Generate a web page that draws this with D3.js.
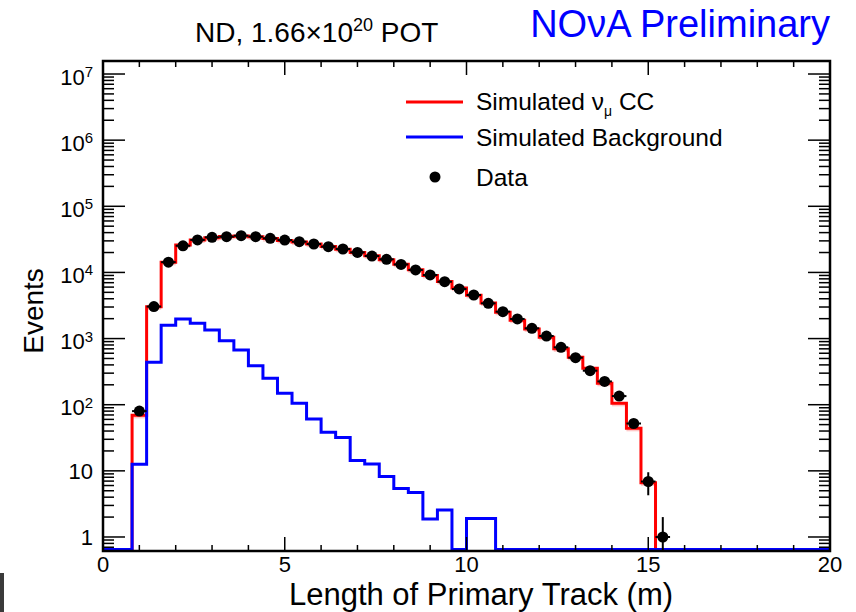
<!DOCTYPE html>
<html>
<head>
<meta charset="utf-8">
<script src="https://cdn.jsdelivr.net/npm/d3@7"></script>
<style>
  html, body { margin: 0; padding: 0; background: #fff; }
  svg { display: block; font-family: "Liberation Sans", Arial, Helvetica, sans-serif; }
</style>
</head>
<body>
<svg id="chart" width="856" height="612"></svg>
<script>
// ---------- data ----------
const binWidth = 0.4;
const binEdges = d3.range(51).map(i => +(i * binWidth).toFixed(2)); // 0 .. 20 m
// Simulated numu CC (red), per bin (50 bins)
const mcNumuCC = [
  0, 0, 69, 3034, 14230, 26000, 31000, 33500, 35000, 35500,
  34500, 32500, 30500, 28800, 26800, 24700, 22400, 20000, 17900, 15600,
  13300, 11000, 9000, 7300, 5800, 4500, 3450, 2500, 1900, 1400,
  1050, 700, 521, 355, 211, 105, 44, 6.6, 0, 0,
  0, 0, 0, 0, 0, 0, 0, 0, 0, 0
];
// Simulated background (blue)
const mcBackground = [
  0, 0, 12.6, 438, 1588, 1977, 1702, 1349, 929, 671,
  389, 251, 149, 105, 61, 38.3, 32, 14.3, 12.7, 8.2,
  5.4, 4.7, 1.87, 2.56, 0, 1.9, 1.9, 0, 0, 0,
  0, 0, 0, 0, 0, 0, 0, 0, 0, 0,
  0, 0, 0, 0, 0, 0, 0, 0, 0, 0
];
// Data (black points)
const dataCounts = [
  0, 0, 80, 3050, 14300, 25300, 31000, 34000, 34700, 35900,
  34700, 32800, 30800, 29150, 26900, 24500, 22600, 20100, 17700, 15800,
  13200, 10900, 9150, 7240, 5620, 4560, 3410, 2550, 1980, 1430,
  1093, 738, 514, 327, 225, 135, 52, 6.9, 1, 0,
  0, 0, 0, 0, 0, 0, 0, 0, 0, 0
];
const xTicks = [0, 5, 10, 15, 20];
const yDecades = [1, 10, 100, 1e3, 1e4, 1e5, 1e6, 1e7];
const legendItems = ["Simulated ν", "Simulated Background", "Data"];

// ---------- layout ----------
const svg = d3.select("#chart");
const L = 103, R = 830, T = 61, B = 551;
const x = d3.scaleLinear().domain([0, 20]).range([L, R]);
const y = d3.scaleLog().domain([0.614, 1.573e7]).range([B, T]);
const FONT = '"Liberation Sans", Arial, Helvetica, sans-serif';
const RED = "#ff0000", BLUE = "#0000ff";

// small dark bar artifact at bottom-left
svg.append("rect").attr("x", 0).attr("y", 573).attr("width", 4).attr("height", 39).attr("fill", "#3a3a3a");

svg.append("defs").append("clipPath").attr("id", "plotclip")
  .append("rect").attr("x", L).attr("y", T).attr("width", R - L).attr("height", B - T);

const plot = svg.append("g").attr("clip-path", "url(#plotclip)");

function yv(v) { return v > 0 ? y(v) : B - 1.5; }

function histPath(vals) {
  const pts = vals.map((v, i) => [binEdges[i], v]);
  pts.push([binEdges[vals.length], vals[vals.length - 1]]);
  return d3.line().x(d => x(d[0])).y(d => yv(d[1])).curve(d3.curveStepAfter)(pts);
}

// MC error band (light pink)
plot.selectAll("rect.band").data(mcNumuCC.map((v, i) => ({v, i})).filter(d => d.v > 0))
  .enter().append("rect")
  .attr("x", d => x(binEdges[d.i]))
  .attr("width", d => x(binEdges[d.i + 1]) - x(binEdges[d.i]))
  .attr("y", d => y(d.v * 1.03))
  .attr("height", d => y(d.v * 0.9) - y(d.v * 1.03))
  .attr("fill", "#ffc8c8");

plot.append("path").attr("d", histPath(mcNumuCC)).attr("fill", "none")
  .attr("stroke", RED).attr("stroke-width", 3);
plot.append("path").attr("d", histPath(mcBackground)).attr("fill", "none")
  .attr("stroke", BLUE).attr("stroke-width", 3);

// data points with error bars
const pts = dataCounts.map((v, i) => ({v, i, c: (binEdges[i] + binEdges[i + 1]) / 2})).filter(d => d.v > 0);
const pg = plot.append("g");
pts.forEach(d => {
  const e = Math.sqrt(d.v);
  const lo = d.v - e > 0 ? y(d.v - e) : B;
  pg.append("line").attr("x1", x(d.c)).attr("x2", x(d.c)).attr("y1", lo).attr("y2", y(d.v + e))
    .attr("stroke", "#000").attr("stroke-width", 2);
  pg.append("line").attr("x1", x(binEdges[d.i])).attr("x2", x(binEdges[d.i + 1]))
    .attr("y1", y(d.v)).attr("y2", y(d.v)).attr("stroke", "#000").attr("stroke-width", 2);
  pg.append("circle").attr("cx", x(d.c)).attr("cy", y(d.v)).attr("r", 5.5).attr("fill", "#000");
});

// ---------- axes (ROOT style, ticks inside) ----------
const ax = svg.append("g").attr("stroke", "#000");
const xMinor = d3.range(0, 21, 1);
xMinor.forEach(v => {
  const major = xTicks.includes(v);
  const len = major ? 14 : 6;
  ax.append("line").attr("x1", x(v)).attr("x2", x(v)).attr("y1", B).attr("y2", B - len).attr("stroke-width", 1.5);
  ax.append("line").attr("x1", x(v)).attr("x2", x(v)).attr("y1", T).attr("y2", T + len).attr("stroke-width", 1.5);
});
// y log ticks
const yMinorVals = [];
[0.1, 1, 10, 100, 1e3, 1e4, 1e5, 1e6, 1e7].forEach(dcd => {
  for (let k = 2; k <= 9; k++) yMinorVals.push(dcd * k);
});
yMinorVals.filter(v => v >= 0.614 && v <= 1.573e7).forEach(v => {
  ax.append("line").attr("x1", L).attr("x2", L + 11).attr("y1", y(v)).attr("y2", y(v)).attr("stroke-width", 1.5);
  ax.append("line").attr("x1", R).attr("x2", R - 11).attr("y1", y(v)).attr("y2", y(v)).attr("stroke-width", 1.5);
});
yDecades.forEach(v => {
  ax.append("line").attr("x1", L).attr("x2", L + 22).attr("y1", y(v)).attr("y2", y(v)).attr("stroke-width", 1.5);
  ax.append("line").attr("x1", R).attr("x2", R - 22).attr("y1", y(v)).attr("y2", y(v)).attr("stroke-width", 1.5);
});
// frame
svg.append("rect").attr("x", L).attr("y", T).attr("width", R - L).attr("height", B - T)
  .attr("fill", "none").attr("stroke", "#000").attr("stroke-width", 2.5);

// tick labels
const tl = svg.append("g").attr("font-family", FONT).attr("fill", "#000");
xTicks.forEach(v => {
  tl.append("text").attr("x", x(v)).attr("y", 571.5).attr("text-anchor", "middle")
    .attr("font-size", 22).text(v);
});
yDecades.forEach(v => {
  const p = Math.round(Math.log10(v));
  if (p <= 1) {
    tl.append("text").attr("x", 93).attr("y", y(v) + 8).attr("text-anchor", "end")
      .attr("font-size", 22).text(v);
  } else {
    const t = tl.append("text").attr("x", 93).attr("y", y(v) + 10.5).attr("text-anchor", "end")
      .attr("font-size", 22);
    t.append("tspan").text("10");
    t.append("tspan").attr("dy", -7.5).attr("font-size", 15).text(p);
  }
});

// axis titles
svg.append("text").attr("x", 481).attr("y", 605).attr("text-anchor", "middle")
  .attr("font-family", FONT).attr("font-size", 31).text("Length of Primary Track (m)");
svg.append("text").attr("transform", "translate(43,311) rotate(-90)").attr("text-anchor", "middle")
  .attr("font-family", FONT).attr("font-size", 28).text("Events");

// top texts
const title = svg.append("text").attr("x", 195).attr("y", 41.7).attr("font-family", FONT).attr("font-size", 28);
title.append("tspan").text("ND, 1.66×10");
title.append("tspan").attr("dy", -11).attr("font-size", 18).text("20");
title.append("tspan").attr("dy", 11).text(" POT");
svg.append("text").attr("x", 830).attr("y", 37).attr("text-anchor", "end")
  .attr("font-family", FONT).attr("font-size", 38).attr("fill", BLUE).text("NOνA Preliminary");

// legend
const lg = svg.append("g").attr("font-family", FONT).attr("font-size", 24.5);
lg.append("line").attr("x1", 406).attr("x2", 463).attr("y1", 102).attr("y2", 102).attr("stroke", RED).attr("stroke-width", 3);
const t1 = lg.append("text").attr("x", 476).attr("y", 110);
t1.append("tspan").text(legendItems[0]);
t1.append("tspan").attr("dy", 6).attr("font-size", 14).text("μ");
t1.append("tspan").attr("dy", -6).text(" CC");
lg.append("line").attr("x1", 406).attr("x2", 463).attr("y1", 137).attr("y2", 137).attr("stroke", BLUE).attr("stroke-width", 3);
lg.append("text").attr("x", 476).attr("y", 145.5).text(legendItems[1]);
lg.append("circle").attr("cx", 435).attr("cy", 177).attr("r", 5.5).attr("fill", "#000");
lg.append("text").attr("x", 476).attr("y", 185.5).text(legendItems[2]);
</script>
</body>
</html>
